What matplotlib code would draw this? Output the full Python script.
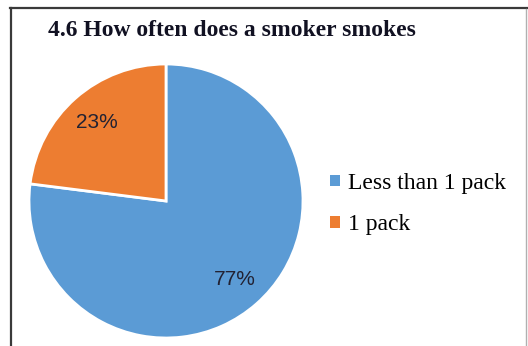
import matplotlib.pyplot as plt
from matplotlib.lines import Line2D
from matplotlib.patches import Patch

# Smoking frequency shares (percent)
categories = ["Less than 1 pack", "1 pack"]
shares = [77, 23]
colors = ["#5B9BD5", "#ED7D31"]

W, H = 528, 346
fig = plt.figure(figsize=(W / 100, H / 100), dpi=100)

# frame around the chart area
fig.add_artist(Line2D([10 / W, 1.0], [1 - 8 / H, 1 - 8 / H], color="#3a3a3a", lw=1.6))
fig.add_artist(Line2D([11 / W, 11 / W], [0, 1 - 8 / H], color="#3a3a3a", lw=1.6))
fig.add_artist(Line2D([526 / W, 526 / W], [0, 1 - 9 / H], color="#b0b0b0", lw=1.0))

fig.text(48 / W, 1 - 31 / H, "4.6 How often does a smoker smokes",
         family="Liberation Serif", fontweight="bold", fontsize=17,
         color="#111122", va="center", ha="left")

ax = fig.add_axes([29 / W, 8 / H, 274 / W, 274 / H])
wedges, _, autotexts = ax.pie(
    shares, colors=colors, startangle=90, counterclock=False,
    autopct="%d%%", pctdistance=0.76,
    wedgeprops=dict(edgecolor="white", linewidth=2),
    textprops=dict(family="Liberation Sans", fontsize=15, color="#222233"),
)
ax.set_xlim(-1.0, 1.0)
ax.set_ylim(-1.0, 1.0)
ax.set_aspect("equal")

handles = [Patch(facecolor=c, edgecolor="none") for c in colors]
fig.legend(handles, categories, loc="center left",
           bbox_to_anchor=(321 / W, 1 - 204 / H), frameon=False,
           prop=dict(family="Liberation Serif", size=17),
           handlelength=0.4, handleheight=0.4, handletextpad=0.35,
           labelspacing=0.85, borderaxespad=0)

fig.savefig("out.png", dpi=100)
